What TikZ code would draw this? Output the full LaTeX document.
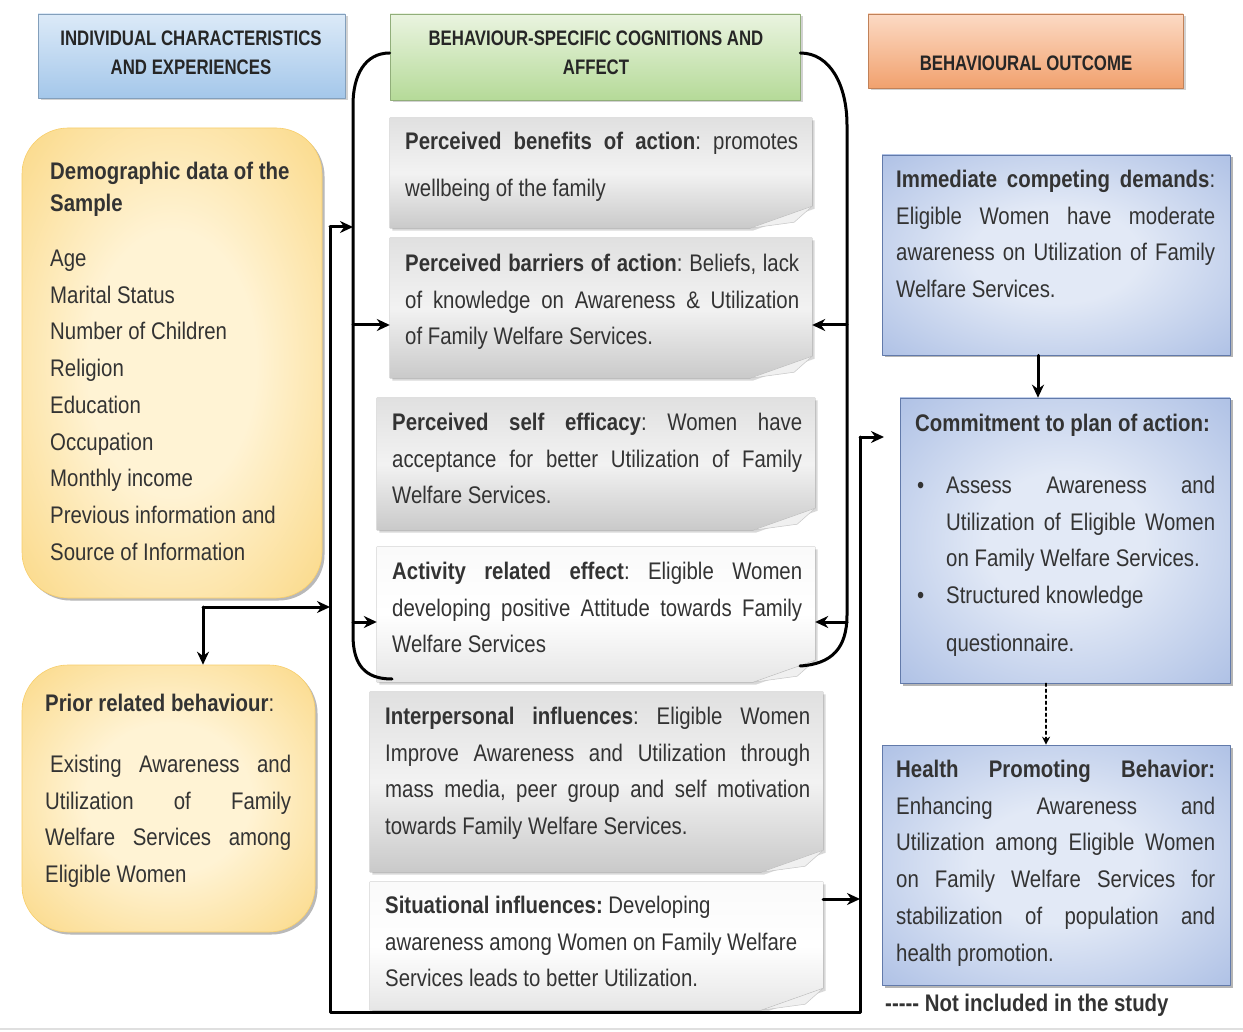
\documentclass[tikz,border=0pt]{standalone}
\usepackage{fontspec}
\setmainfont{Liberation Sans}[FakeStretch=0.85]
\newfontfamily\hdrfont{Liberation Sans}[FakeStretch=0.8]
\usetikzlibrary{arrows.meta,shadows}
\setlength{\parindent}{0pt}
\definecolor{indtop}{HTML}{DCEAF8}
\definecolor{indbot}{HTML}{A4C7EA}
\definecolor{behtop}{HTML}{EAF4E0}
\definecolor{behbot}{HTML}{B5DA98}
\definecolor{outtop}{HTML}{FCDAC4}
\definecolor{outbot}{HTML}{F1A16E}
\definecolor{goldin}{HTML}{FFF3D4}
\definecolor{goldout}{HTML}{F5B92A}
\definecolor{bluein}{HTML}{E2E9F6}
\definecolor{blueout}{HTML}{7A98D4}
\pgfdeclareradialshading{goldglow}{\pgfpoint{0bp}{0bp}}{color(0bp)=(goldin); color(14bp)=(goldin); color(62bp)=(goldout)}
\pgfdeclareradialshading{blueglow}{\pgfpoint{0bp}{0bp}}{color(0bp)=(bluein); color(12bp)=(bluein); color(60bp)=(blueout)}
\newcommand\jl[1]{\leavevmode\hbox to\hsize{\spaceskip=0pt\xspaceskip=0pt #1}}
\newcommand\bul{\leavevmode\llap{\textbullet\hspace{22pt}}}
\newcommand\curl[2]{%
  \fill[#2,drop shadow={opacity=.3,shadow xshift=2.5pt,shadow yshift=-2.5pt}]
    (#1.north west) -- (#1.north east) -- ([yshift=22pt]#1.south east)
    -- ([xshift=-62pt]#1.south east) -- (#1.south west) -- cycle;
  \filldraw[gray!12,draw=gray!45,line width=.5pt] ([xshift=-62pt]#1.south east)
    -- ([yshift=22pt]#1.south east) -- ([xshift=-18pt,yshift=6pt]#1.south east) -- cycle;}

\begin{document}
\begin{tikzpicture}[x=1pt,y=-1pt,line join=round,line cap=round,
  >={Stealth[length=13pt,width=12pt]},
  wire/.style={line width=3pt},
  dots/.style={line width=1.3pt,dash pattern=on 3pt off 3pt,-{Stealth[length=8pt,width=8pt]}},
  sz/.style 2 args={minimum width=#1pt,minimum height=#2pt},
  shade/.style={drop shadow={opacity=.35,shadow xshift=2.5pt,shadow yshift=-2.5pt}},
  hdr/.style 2 args={inner sep=0pt,top color=#1,bottom color=#2,draw=#2!80!black,line width=.6pt,shade},
  htxt/.style={font=\hdrfont\bfseries\fontsize{21}{29}\selectfont,align=center,text=black!85,inner sep=0pt},
  gold/.style={inner sep=0pt,rounded corners=46pt,shade,shading=goldglow,draw=goldout!70!white,line width=.6pt,
    drop shadow={opacity=.3,shadow xshift=2.5pt,shadow yshift=-2.5pt}},
  sky/.style={inner sep=0pt,shade,shading=blueglow,draw=blueout!80!black,line width=.6pt,
    drop shadow={opacity=.35,shadow xshift=2.5pt,shadow yshift=-2.5pt}},
  sheet/.style={inner sep=0pt},
  paperdark/.style={top color=gray!24,bottom color=gray!42,middle color=gray!10},
  paperlight/.style={top color=gray!4,bottom color=gray!20,middle color=white},
  txt/.style={font=\fontsize{24}{36.7}\selectfont\frenchspacing,text=black!80,inner sep=0pt,anchor=north west,align=justify}]

\fill[white] (0,0) rectangle (1243,1032);
\useasboundingbox (0,0) rectangle (1243,1032);
\draw[gray!25,line width=2.5pt] (0,1029) -- (1243,1029);

% column headers
\node[hdr={indtop}{indbot},sz={307}{84}] (hInd) at (191.5,56) {};
\node[hdr={behtop}{behbot},sz={410}{86}] (hBeh) at (595,57) {};
\node[hdr={outtop}{outbot},sz={315}{74}] (hOut) at (1025.5,51) {};
\node[htxt] (hIndT) at (191,52.5) {INDIVIDUAL CHARACTERISTICS\\AND EXPERIENCES};
\node[htxt] (hBehT) at (596,53) {BEHAVIOUR-SPECIFIC COGNITIONS AND\\AFFECT};
\node[htxt] (hOutT) at (1026,63) {BEHAVIOURAL OUTCOME};

% left column
\node[gold,sz={300}{470}] (demo) at (172,363) {};
\node[gold,sz={293}{267}] (prior) at (168.5,798.5) {};
\node[txt,text width=265pt] (demoT) at (50,162) {\textbf{Demographic data of the}\\[-4.7pt]\textbf{Sample}\\[18.3pt]Age\\Marital Status\\Number of Children\\Religion\\Education\\Occupation\\Monthly income\\Previous information and\\Source of Information};
\node[txt,text width=246pt] (priorT) at (45,694) {\textbf{Prior related behaviour}:\\[24.3pt]\jl{\hspace{5pt}Existing Awareness and}\\\jl{Utilization of Family}\\\jl{Welfare Services among}\\Eligible Women};

% middle column
\node[sheet,sz={422}{110}] (ben) at (601,173) {};
\node[sheet,sz={422}{140}] (barr) at (601,308) {};
\node[sheet,sz={438}{132}] (eff) at (596,464) {};
\node[sheet,sz={438}{135}] (act) at (596,614.5) {};
\node[sheet,sz={453}{180}] (inter) at (596.5,782) {};
\node[sheet,sz={453}{128}] (situ) at (596.5,946) {};
\curl{ben}{paperdark}
\curl{barr}{paperdark}
\curl{eff}{paperdark}
\curl{act}{paperlight}
\curl{inter}{paperdark}
\curl{situ}{paperlight}
\node[txt,text width=393pt] (benT) at (405,132) {\jl{\textbf{Perceived benefits of action}: promotes}\\[10.3pt]wellbeing of the family};
\node[txt,text width=394pt] (barrT) at (405,254) {\jl{\textbf{Perceived barriers of action}: Beliefs, lack}\\\jl{of knowledge on Awareness \& Utilization}\\of Family Welfare Services.};
\node[txt,text width=410pt] (effT) at (392,413) {\jl{\textbf{Perceived self efficacy}: Women have}\\\jl{acceptance for better Utilization of Family}\\Welfare Services.};
\node[txt,text width=410pt] (actT) at (392,562) {\jl{\textbf{Activity related effect}: Eligible Women}\\\jl{developing positive Attitude towards Family}\\Welfare Services};
\node[txt,text width=425pt] (interT) at (385,707) {\jl{\textbf{Interpersonal influences}: Eligible Women}\\\jl{Improve Awareness and Utilization through}\\\jl{mass media, peer group and self motivation}\\towards Family Welfare Services.};
\node[txt,text width=440pt] (situT) at (385,896) {\textbf{Situational influences:} Developing\\awareness among Women on Family Welfare\\Services leads to better Utilization.};

% right column
\node[sky,sz={348}{200}] (imm) at (1056,255) {};
\node[sky,sz={330}{285}] (com) at (1065,540.5) {};
\node[sky,sz={348}{240}] (health) at (1056,865) {};
\node[txt,text width=319pt] (immT) at (896,170) {\jl{\textbf{Immediate competing demands}:}\\\jl{Eligible Women have moderate}\\\jl{awareness on Utilization of Family}\\Welfare Services.};
\node[txt,text width=310pt] (comT) at (915,414) {\textbf{Commitment to plan of action:}};
\node[txt,text width=269pt] (comB) at (946,476) {\bul\jl{Assess Awareness and}\\\jl{Utilization of Eligible Women}\\on Family Welfare Services.\\\bul Structured knowledge\\[11.3pt]questionnaire.};
\node[txt,text width=319pt] (healthT) at (896,760) {\jl{\textbf{Health Promoting Behavior:}}\\\jl{Enhancing Awareness and}\\\jl{Utilization among Eligible Women}\\\jl{on Family Welfare Services for}\\\jl{stabilization of population and}\\health promotion.};
\node[txt,text width=320pt] (noteT) at (885,994) {\textbf{{-}{-}{-}{-}{-} Not included in the study}};

% connectors
\path
(353,325) coordinate (bL1)
(353,622) coordinate (bL2)
(847,325) coordinate (bR1)
(847,622) coordinate (bR2)
(330,227) coordinate (oTL)
(330,1012) coordinate (oBL)
(860,1012) coordinate (oBR)
(860,437) coordinate (oTR)
(884,437) coordinate (cIn)
(203,607) coordinate (pj)
;
\draw[wire] ([yshift=4pt]hBeh.west) .. controls (365,53) and (353,75) .. (353,105)
  -- (353,635) .. controls (353,665) and (365,679) .. (392,679);
\draw[wire] ([yshift=4pt]hBeh.east) .. controls (830,53) and (847,85) .. (847,125)
  -- (847,615) .. controls (847,648) and (832,664) .. (800,666);
\foreach \p/\q in {bL1/barr,bL2/act}
\draw[wire,->] (\p) -- (\p -| \q.west);
\foreach \p/\q in {bR1/barr,bR2/act}
\draw[wire,->] (\p) -- (\p -| \q.east);
\draw[wire] (oTL) -- (oBL) -- (oBR) -- (oTR);
\draw[wire,->] (oTL) -- (oTL -| bL1);
\draw[wire,->] (oTR) -- (cIn);
\draw[wire,->] (pj) -- (pj |- prior.north);
\draw[wire,->] (pj) -- (pj -| oTL);
\draw[wire,->] ([yshift=47pt]situ.east) -- ([yshift=47pt]situ.east -| oBR);
\draw[wire,->] ([xshift=-18pt]imm.south) -- ([xshift=-18pt]imm.south |- com.north);
\draw[dots] ([xshift=-19pt]com.south) -- ([xshift=-19pt]com.south |- health.north);
\end{tikzpicture}
\end{document}
